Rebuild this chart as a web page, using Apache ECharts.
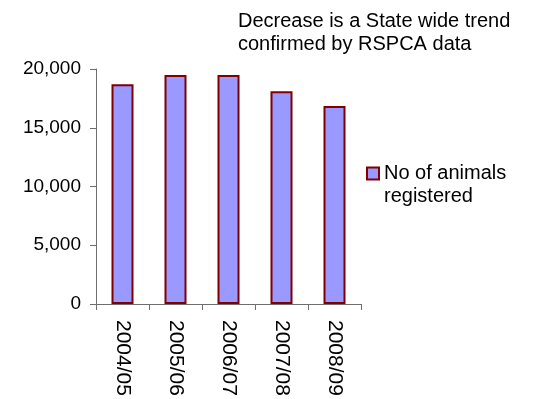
<!DOCTYPE html>
<html>
<head>
<meta charset="utf-8">
<script src="https://cdn.jsdelivr.net/npm/echarts@6/dist/echarts.min.js"></script>
<style>
  html, body { margin: 0; padding: 0; background: #fff; }
  #chart { width: 540px; height: 399px; }
</style>
</head>
<body>
<div id="chart"></div>
<script>
// Animal registrations per financial year
const years = ['2004/05', '2005/06', '2006/07', '2007/08', '2008/09'];
const registered = [18700, 19500, 19500, 18100, 16850];
const seriesName = 'No of animals registered';
const legendLines = ['No of animals', 'registered'];
const noteLines = ['Decrease is a State wide trend', 'confirmed by RSPCA data'];

const FONT = 'Arial, "Liberation Sans", sans-serif';
const chart = echarts.init(document.getElementById('chart'), null, { renderer: 'canvas' });

chart.setOption({
  animation: false,
  backgroundColor: '#ffffff',
  title: {
    text: noteLines.join('\n'),
    left: 238,
    top: 10,
    padding: 0,
    textStyle: { fontFamily: FONT, fontSize: 20, fontWeight: 'normal', color: '#000', lineHeight: 23 }
  },
  legend: {
    left: 366,
    top: 139,
    padding: 0,
    orient: 'vertical',
    itemWidth: 12,
    itemHeight: 12,
    itemGap: 6,
    // a blank leading line keeps the swatch level with the first line of the label
    formatter: () => '\n' + legendLines.join('\n'),
    textStyle: { fontFamily: FONT, fontSize: 20, color: '#000', lineHeight: 23 },
    data: [{ name: seriesName, icon: 'rect', itemStyle: { color: '#9999FF', borderColor: '#800000', borderWidth: 2 } }]
  },
  grid: { left: 96, right: 179, top: 69, bottom: 95, containLabel: false },
  xAxis: {
    type: 'category',
    data: years,
    axisLine: { show: true, lineStyle: { color: '#6e6e6e', width: 1 } },
    axisTick: { show: true, alignWithLabel: false, length: 6, lineStyle: { color: '#6e6e6e' } },
    axisLabel: { rotate: -90, margin: 16, fontFamily: FONT, fontSize: 21, color: '#000', interval: 0 }
  },
  yAxis: {
    type: 'value',
    min: 0,
    max: 20000,
    interval: 5000,
    splitLine: { show: false },
    axisLine: { show: true, lineStyle: { color: '#6e6e6e', width: 1 } },
    axisTick: { show: true, length: 6, lineStyle: { color: '#6e6e6e' } },
    axisLabel: {
      margin: 15,
      fontFamily: FONT,
      fontSize: 19,
      color: '#000',
      formatter: v => v.toLocaleString('en-US')
    }
  },
  series: [{
    name: seriesName,
    type: 'bar',
    data: registered,
    barWidth: 22,
    itemStyle: { color: '#9999FF', borderColor: '#800000', borderWidth: 2 }
  }]
});
</script>
</body>
</html>
